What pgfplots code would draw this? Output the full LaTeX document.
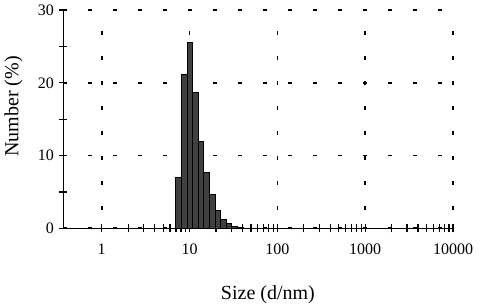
\documentclass[border=0pt]{standalone}
\usepackage{pgfplots}
\pgfplotsset{compat=1.18}
\usepackage{fontspec}
\setmainfont{Liberation Serif}
\begin{document}
\begin{tikzpicture}
\path[use as bounding box] (0,0) rectangle (500pt,305pt);
\begin{axis}[
  at={(63.3pt,76.7pt)}, anchor=south west,
  scale only axis, width=389.7pt, height=218.3pt,
  xmode=log, xmin=0.365, xmax=10000, ymin=0, ymax=30,
  axis x line*=bottom, axis y line*=left,
  axis line style={line width=1.4pt, -},
  xtick={1,10,100,1000,10000}, xticklabels={1,10,100,1000,10000},
  minor xtick={2,3,4,5,6,7,8,9,20,30,40,50,60,70,80,90,200,300,400,500,600,700,800,900,2000,3000,4000,5000,6000,7000,8000,9000},
  ytick={0,10,20,30}, minor ytick={5,15,25},
  tick align=center, major tick length=8pt, minor tick length=8pt,
  tick style={black, solid, line width=1.2pt},
  xmajorgrids, ymajorgrids,
  x grid style={black, line width=1.6pt, dash pattern=on 3.5pt off 21.5pt, dash phase=6.5pt},
  y grid style={black, line width=1.6pt, dash pattern=on 3.5pt off 21.5pt},
  tick label style={font=\fontsize{16}{19}\selectfont},
  /pgf/number format/assume math mode=true,
  xticklabel style={yshift=-8pt},
  yticklabel style={xshift=-2pt},
  xlabel={Size (d/nm)},
  ylabel={Number (\%)},
  label style={font=\fontsize{20}{24}\selectfont},
  xlabel style={at={(axis description cs:0.525,0)}, anchor=base, yshift=-71pt},
  ylabel style={at={(axis description cs:-0.115,0.558)}, anchor=base, rotate=0},
]
\addplot[ybar interval, fill=black!75, draw=black, line width=1pt] coordinates {
(6.998,7.0)
(8.105,21.1)
(9.386,25.5)
(10.870,18.6)
(12.588,11.9)
(14.578,7.7)
(16.883,4.6)
(19.552,2.5)
(22.643,1.25)
(26.223,0.7)
(30.369,0.25)
(35.170,0.1)
(40.731,0.1)
};
\end{axis}
\end{tikzpicture}
\end{document}
